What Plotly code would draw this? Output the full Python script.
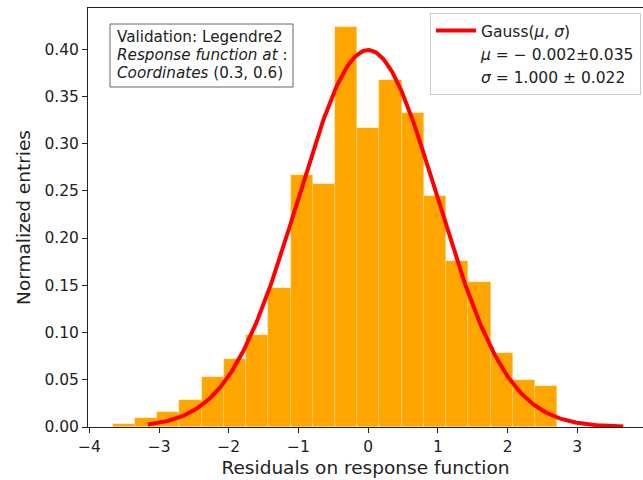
import numpy as np
import plotly.graph_objects as go

# ---- data ----
bin_edges = [-3.666, -3.347, -3.028, -2.709, -2.390, -2.071, -1.752, -1.433,
             -1.114, -0.795, -0.476, -0.157, 0.162, 0.481, 0.800, 1.119,
             1.438, 1.757, 2.076, 2.395, 2.714]
density = [0.0031, 0.0094, 0.0157, 0.0282, 0.0533, 0.0721, 0.0972, 0.1473,
           0.2665, 0.2571, 0.4232, 0.3166, 0.3668, 0.3323, 0.2445, 0.1755,
           0.1536, 0.0784, 0.0502, 0.0439]
fit_mu = -0.002
fit_sigma = 1.000
fit_xmin, fit_xmax = -3.16, 3.66
x_ticks = [-4, -3, -2, -1, 0, 1, 2, 3]
y_ticks = [0.00, 0.05, 0.10, 0.15, 0.20, 0.25, 0.30, 0.35, 0.40]
info_lines = ["Validation: Legendre2",
              "<i>Response function at</i> :",
              "<i>Coordinates</i> (0.3, 0.6)"]

centers = [(a + b) / 2 for a, b in zip(bin_edges[:-1], bin_edges[1:])]
widths = [b - a for a, b in zip(bin_edges[:-1], bin_edges[1:])]

xs = np.linspace(fit_xmin, fit_xmax, 300)
ys = np.exp(-0.5 * ((xs - fit_mu) / fit_sigma) ** 2) / (fit_sigma * np.sqrt(2 * np.pi))

FONT = "DejaVu Sans"
W, H = 643, 480
ML, MR, MT, MB = 88, 0, 8, 53
PW, PH = W - ML - MR, H - MT - MB


def px_x(px):
    return (px - ML) / PW


def px_y(py):
    return (H - MB - py) / PH


fig = go.Figure()
fig.add_trace(go.Bar(
    x=centers, y=density, width=widths,
    marker=dict(color="#FFA500", line=dict(color="rgba(255,255,255,0.35)", width=0.6)),
    showlegend=False, hoverinfo="skip"))
fig.add_trace(go.Scatter(
    x=xs, y=ys, mode="lines", line=dict(color="#FF0000", width=4),
    name="Gauss(<i>μ</i>, <i>σ</i>)"))
fig.add_trace(go.Scatter(
    x=[None], y=[None], mode="lines", line=dict(color="rgba(0,0,0,0)", width=0),
    name="<i>μ</i> = − 0.002±0.035"))
fig.add_trace(go.Scatter(
    x=[None], y=[None], mode="lines", line=dict(color="rgba(0,0,0,0)", width=0),
    name="<i>σ</i> = 1.000 ± 0.022"))

# info box
fig.add_shape(type="rect", xref="paper", yref="paper",
              x0=px_x(110), x1=px_x(293), y0=px_y(87), y1=px_y(24),
              line=dict(color="#666", width=1), fillcolor="white", layer="above")
for i, t in enumerate(info_lines):
    fig.add_annotation(
        xref="paper", yref="paper", x=px_x(114.5), y=px_y(36.5 + 18.5 * i),
        xanchor="left", yanchor="middle", text=t, showarrow=False, align="left",
        font=dict(family=FONT, size=15.2, color="#222"))

fig.update_layout(
    width=W, height=H,
    margin=dict(l=ML, r=MR, t=MT, b=MB),
    paper_bgcolor="white", plot_bgcolor="white",
    font=dict(family=FONT, size=15.5, color="#222"),
    bargap=0,
    legend=dict(x=px_x(430), y=px_y(13), xanchor="left", yanchor="top",
                bgcolor="rgba(255,255,255,0.85)", bordercolor="#ccc", borderwidth=1,
                font=dict(family=FONT, size=15.5, color="#222"),
                tracegroupgap=0, itemwidth=40),
    xaxis=dict(range=[-4.02, 3.943], tickvals=x_ticks, ticks="outside", ticklen=5,
               tickcolor="#222", showline=True, linecolor="#222", linewidth=1,
               mirror=True, showgrid=False, zeroline=False,
               title=dict(text="Residuals on response function",
                          font=dict(family=FONT, size=18.5), standoff=6)),
    yaxis=dict(range=[0, 0.4435], tickvals=y_ticks, tickformat=".2f", ticks="outside",
               ticklen=5, tickcolor="#222", showline=True, linecolor="#222", linewidth=1,
               mirror=False, showgrid=False, zeroline=False,
               title=dict(text="Normalized entries", font=dict(family=FONT, size=18.5),
                          standoff=8)),
)

fig.write_html("out.html")
